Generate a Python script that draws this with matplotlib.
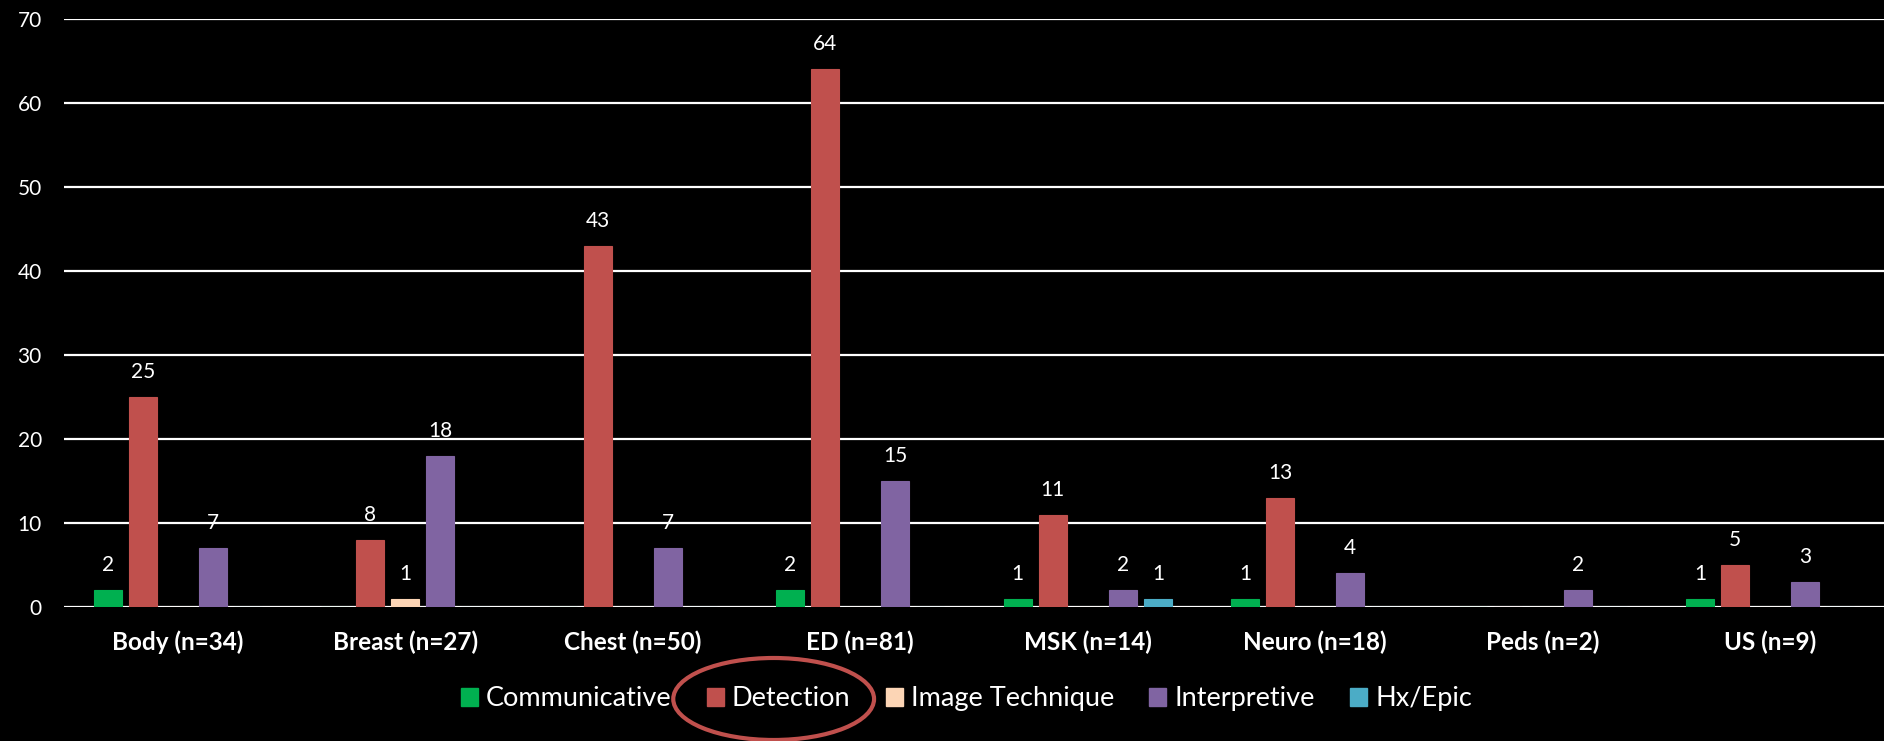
import numpy as np
import matplotlib.pyplot as plt
from matplotlib.patches import Ellipse, Patch

plt.rcParams['font.family'] = ['Lato', 'DejaVu Sans']

categories = ['Body (n=34)', 'Breast (n=27)', 'Chest (n=50)', 'ED (n=81)',
              'MSK (n=14)', 'Neuro (n=18)', 'Peds (n=2)', 'US (n=9)']
communicative = [2, 0, 0, 2, 1, 1, 0, 1]
detection = [25, 8, 43, 64, 11, 13, 0, 5]
image_technique = [0, 1, 0, 0, 0, 0, 0, 0]
interpretive = [7, 18, 7, 15, 2, 4, 2, 3]
hx_epic = [0, 0, 0, 0, 1, 0, 0, 0]

series = [('Communicative', communicative, '#00B050'),
          ('Detection', detection, '#C0504D'),
          ('Image Technique', image_technique, '#FCD5B5'),
          ('Interpretive', interpretive, '#8064A2'),
          ('Hx/Epic', hx_epic, '#4BACC6')]

fig = plt.figure(figsize=(18.84, 7.41), dpi=100, facecolor='black')
ax = fig.add_axes([0.034, 0.1808, 0.966, 0.7935])
ax.set_facecolor('black')

x = np.arange(len(categories))
slot = 0.154
width = 0.123
for i, (name, vals, color) in enumerate(series):
    pos = x + (i - 2) * slot
    bars = ax.bar(pos, vals, width, color=color, edgecolor=color,
                  linewidth=0.8, zorder=3, label=name)
    for b, v in zip(bars, vals):
        if v > 0:
            ax.text(b.get_x() + b.get_width() / 2, v + 1.8, str(v),
                    ha='center', va='bottom', color='white', fontsize=15)

ax.set_xlim(-0.5, len(categories) - 0.5)
ax.set_ylim(0, 70)
ax.set_yticks(range(0, 71, 10))
ax.grid(axis='y', color='white', linewidth=1.6, zorder=1)
ax.set_axisbelow(True)
for s in ax.spines.values():
    s.set_visible(False)
ax.tick_params(axis='both', length=0, colors='white')
ax.tick_params(axis='y', pad=16, labelsize=15)
ax.tick_params(axis='x', pad=17)
ax.set_xticks(x)
ax.set_xticklabels(categories, fontsize=17.5, fontweight='bold', color='white')

handles = [Patch(facecolor=c, edgecolor=c) for _, _, c in series]
labels = [n for n, _, _ in series]
leg = fig.legend(handles, labels, loc='center', bbox_to_anchor=(0.513, 0.0567),
                 ncol=5, frameon=False, fontsize=19.5, labelcolor='white',
                 handlelength=0.63, handleheight=0.63, handletextpad=0.3,
                 columnspacing=1.3)

# circle the Detection entry
fig.canvas.draw()
r = fig.canvas.get_renderer()
tb = leg.get_texts()[1].get_window_extent(r)
hb = leg.legend_handles[1].get_window_extent(r)
x0, x1 = hb.x0, tb.x1
cx, cy = (x0 + x1) / 2 - 5, (tb.y0 + tb.y1) / 2
W, H = fig.bbox.width, fig.bbox.height
ell = Ellipse((cx / W, cy / H), (x1 - x0 + 57) / W, 82 / H,
              transform=fig.transFigure, fill=False, edgecolor='#C0504D',
              linewidth=3)
fig.add_artist(ell)

fig.savefig('out.png', dpi=100, facecolor='black')
